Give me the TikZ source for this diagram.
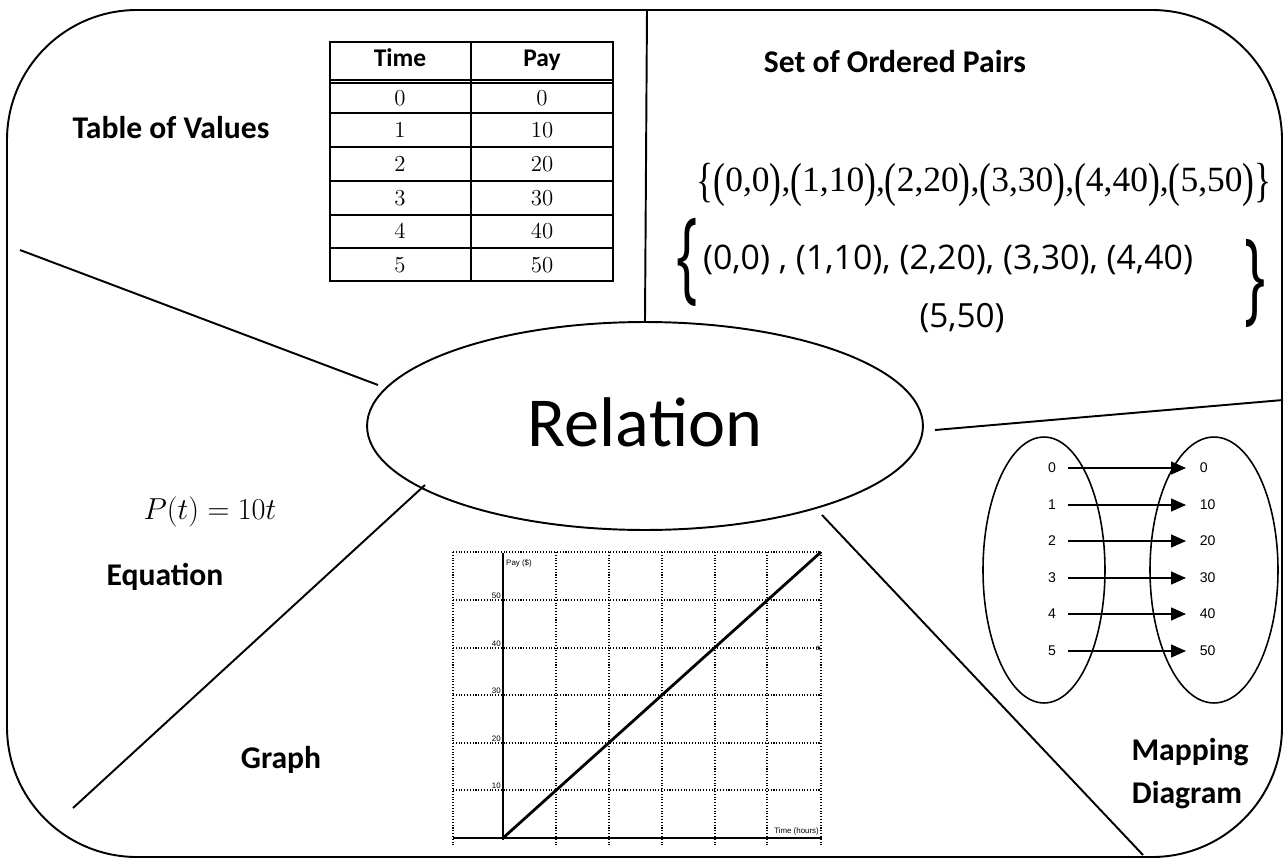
\documentclass[tikz,border=0pt]{standalone}
\usepackage{fontspec}
\usepackage{graphicx}
\usetikzlibrary{shapes.geometric,arrows.meta}
\setmainfont{Carlito}
\newfontfamily\tnr{Liberation Serif}
\newfontfamily\arl{Liberation Sans}
\newfontfamily\hnd{Open Sans}
\newfontfamily\lmr{Latin Modern Roman}
\newcommand\fsz[1]{\fontsize{#1}{#1}\selectfont}
\newcommand\tallc[1]{\raisebox{-0.13em}{\scalebox{1}[1.35]{#1}}}
\tikzset{
  lbl/.style={font=\bfseries\fsz{18}},
  sector/.style={line width=1.1pt},
  hdr/.style={font=\bfseries\fsz{14.5}, text height=1.5ex, text depth=0.4ex},
  num/.style={font=\lmr\fsz{13}},
  tline/.style={line width=0.6pt},
  mapn/.style={font=\arl\fsz{8}, inner sep=2pt},
  tinyl/.style={font=\arl\fsz{4.5}, inner sep=0.5pt},
  gridl/.style={densely dotted, line width=0.6pt},
  arr/.style={-{Triangle[length=0.3cm,width=0.26cm]}, line width=0.8pt, shorten >=0.2cm},
  hand/.style={font=\hnd, inner sep=0pt},
}
\begin{document}
\begin{tikzpicture}[x=0.02cm,y=-0.02cm]
\useasboundingbox (0,0) rectangle (1286,859);
% outer frame
\draw[line width=1.1pt, rounded corners=2.6cm] (7,10) rectangle (1282,857);

% central ellipse
\node[draw, ellipse, line width=1.1pt, minimum width=11.12cm, minimum height=4.16cm, inner sep=0pt,
      font=\fsz{40}] (rel) at (645,426) {\raisebox{0.12em}{Relation}};

% sector lines
\coordinate (topv) at (647,10);
\coordinate (ulA) at (20,250);  \coordinate (ulB) at (378,385);
\coordinate (llA) at (73,808);  \coordinate (llB) at (425,485);
\coordinate (rA) at (935,430);  \coordinate (rB) at (1283,400);
\coordinate (lrA) at (822,515); \coordinate (lrB) at (1143,855);
\draw[sector] (topv) -- (rel.north);
\draw[sector] (ulA) -- (ulB);
\draw[sector] (llA) -- (llB);
\draw[sector] (rA) -- (rB);
\draw[sector] (lrA) -- (lrB);

% section labels
\node[lbl] (ltab) at (171,128) {Table of Values};
\node[lbl] (lset) at (895,62) {Set of Ordered Pairs};
\node[lbl] (leq) at (165,577) {Equation};
\node[lbl] (lgr) at (281,760) {Graph};
\node[lbl] (lmap1) at (1190,752) {Mapping};
\node[lbl] (lmap2) at (1187,795) {Diagram};

% equation
\node[font=\fsz{16}] (eq) at (210,512) {$P(t)=10t$};

% table of values
\draw[tline] (330,42) rectangle (613,281);
\draw[tline] (471,42) -- (471,281);
\draw[tline] (330,80) -- (613,80);
\draw[tline] (330,83) -- (613,83);
\foreach \yy in {113,147,181,215,248} \draw[tline] (330,\yy) -- (613,\yy);
\node[hdr] (hT) at (400,62) {Time};
\node[hdr] (hP) at (542,62) {Pay};
\foreach \i/\yy/\p in {0/98/0,1/130/10,2/164/20,3/198/30,4/231/40,5/265/50}{
  \node[num] (tt\i) at (400,\yy) {\i};
  \node[num] (tp\i) at (542,\yy) {\p};
}

% set of ordered pairs (typed)
\node[inner sep=0pt] (typed) at (984,185) {\resizebox{11.5cm}{!}{\tnr\fsz{20}\tallc{\{}\tallc{(}0,0\tallc{)},\tallc{(}1,10\tallc{)},\tallc{(}2,20\tallc{)},\tallc{(}3,30\tallc{)},\tallc{(}4,40\tallc{)},\tallc{(}5,50\tallc{)}\tallc{\}}}};

% handwritten version
\node[hand] (hbl) at (687,262) {\scalebox{0.7}[1.25]{\fsz{46}\{}};
\node[hand] (hline) at (948,260) {\resizebox{9.8cm}{!}{\fsz{20}(0,0) ,  (1,10),  (2,20), (3,30), (4,40)}};
\node[hand] (hlast) at (962,318) {\resizebox{1.7cm}{!}{\fsz{20}(5,50)}};
\node[hand] (hbr) at (1255,283) {\scalebox{0.7}[1.25]{\fsz{46}\}}};

% graph
\foreach \xx in {453,556,609,662,715,767,821} \draw[gridl] (\xx,552) -- (\xx,845);
\foreach \yy in {552,600,648,695,743,790} \draw[gridl] (453,\yy) -- (821,\yy);
\draw[line width=0.8pt] (453,838) -- (822,838);
\draw[line width=0.8pt] (503,553) -- (503,840);
\coordinate (gO) at (503,838);
\coordinate (gE) at (821,552);
\draw[line width=1.6pt] (gO) -- (gE);
\node[tinyl, anchor=west] (gpay) at (505,563) {Pay (\$)};
\node[tinyl, anchor=east] (gtime) at (820,831) {Time (hours)};
\node[tinyl] (ga) at (818,648) {a};
\foreach \v/\yy in {50/600,40/648,30/695,20/743,10/790}
  \node[tinyl, anchor=south east] (g\v) at (502,\yy) {\v};

% mapping diagram
\node[draw, ellipse, line width=0.9pt, minimum width=2.44cm, minimum height=5.32cm, inner sep=0pt] (dom) at (1044,570) {};
\node[draw, ellipse, line width=0.9pt, minimum width=2.56cm, minimum height=5.32cm, inner sep=0pt] (rng) at (1214,570) {};
\foreach \i/\yy/\p in {0/468/0,1/505/10,2/541/20,3/578/30,4/614/40,5/651/50}{
  \node[mapn] (a\i) at (1052,\yy) {\i};
  \node[mapn, anchor=west] (b\i) at (1196,\yy) {\p};
  \draw[arr] ([xshift=0.16cm]a\i.east) -- (b\i.west);
}
\end{tikzpicture}
\end{document}
